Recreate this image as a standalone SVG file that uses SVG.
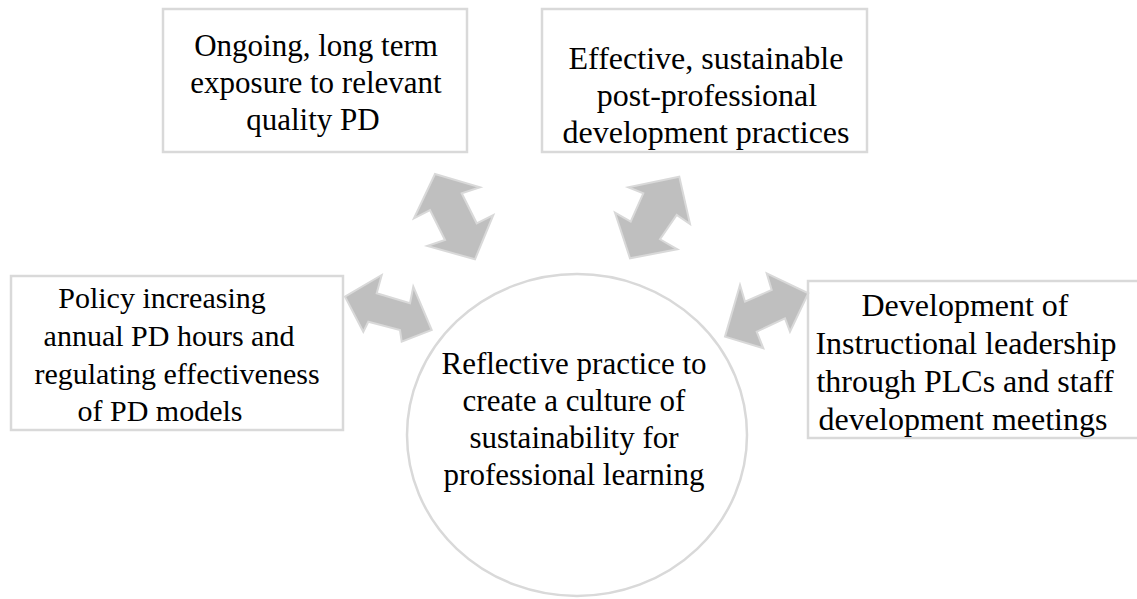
<svg xmlns="http://www.w3.org/2000/svg" width="1137" height="599" viewBox="0 0 1137 599">
<style>
.box{fill:#ffffff;stroke:#d9d9d9;stroke-width:2.5}
.arr{fill:#bfbfbf;stroke:#d9d9d9;stroke-width:2;stroke-linejoin:miter}
.t{font-family:"Liberation Serif","Times New Roman",serif;font-size:31px;fill:#000000;text-anchor:middle}
.l{font-size:32px}
.s{font-size:30px}
</style>
<rect width="1137" height="599" fill="#ffffff"/>
<g id="node-center">
<ellipse class="box" cx="577" cy="435" rx="170" ry="161"/>
<text class="t"><tspan x="574" y="374">Reflective practice to</tspan><tspan x="574" y="411">create a culture of</tspan><tspan x="574" y="448">sustainability for</tspan><tspan x="574" y="485">professional learning</tspan></text>
</g>
<g id="node-top-left">
<rect class="box" x="163" y="9" width="304" height="143"/>
<text class="t"><tspan x="316" y="56">Ongoing, long term</tspan><tspan x="316" y="93">exposure to relevant</tspan><tspan x="313" y="130">quality PD</tspan></text>
</g>
<g id="node-top-right">
<rect class="box" x="542" y="9" width="325" height="143"/>
<text class="t l"><tspan x="706" y="69">Effective, sustainable</tspan><tspan x="707" y="106">post-professional</tspan><tspan x="706" y="143">development practices</tspan></text>
</g>
<g id="node-left">
<rect class="box" x="11" y="276" width="332" height="154"/>
<text class="t s"><tspan x="162" y="308">Policy increasing</tspan><tspan x="169" y="346">annual PD hours and</tspan><tspan x="177" y="384">regulating effectiveness</tspan><tspan x="160" y="421">of PD models</tspan></text>
</g>
<g id="node-right">
<rect class="box" x="808" y="281" width="332" height="157"/>
<text class="t l"><tspan x="965" y="316">Development of</tspan><tspan x="966" y="354">Instructional leadership</tspan><tspan x="965" y="392">through PLCs and staff</tspan><tspan x="963" y="430">development meetings</tspan></text>
</g>
<g id="connectors">
<polygon class="arr" points="435,174 480,187.3 461.7,193.3 476.7,223.3 493.3,215 475,259.3 427.3,246 445,240 430,210 414,218.3"/>
<polygon class="arr" points="679.3,176.7 690,224 676.7,215 660,239.3 677.3,249.3 630,258.3 615,212.7 630.7,221.7 643.3,193.3 628.3,187.3"/>
<polygon class="arr" points="345,296.7 381.7,275 376.7,293.3 410,303.3 413.3,286.7 431.7,330 401.7,341.7 400,330 368.3,321.7 363.3,331.7"/>
<polygon class="arr" points="766.7,273.3 808.3,293.3 790,331.7 785,318.3 756.7,331.7 763.3,348.3 725,336.7 740,285 745,301.7 771.7,290"/>
</g>
</svg>
